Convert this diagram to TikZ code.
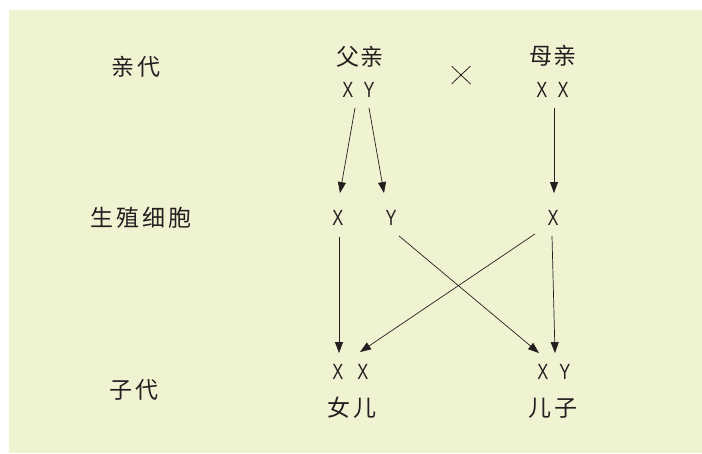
\documentclass[tikz,border=0pt]{standalone}
\usepackage{fontspec}
\usepackage{tikz}
\usetikzlibrary{arrows.meta}
\newfontfamily\cjk{Noto Sans CJK SC}
\newfontfamily\genefont{Liberation Sans}[FakeStretch=0.75]
\definecolor{paper}{RGB}{240,243,210}
\definecolor{ink}{RGB}{35,31,32}

\begin{document}
\begin{tikzpicture}[x=1pt,y=-1pt,
    word/.style={font=\cjk\fontsize{23}{23}\selectfont,inner sep=0pt,text=ink},
    gene/.style={font=\genefont\fontsize{22}{22}\selectfont,inner sep=0pt,
      text height=15.5pt,text depth=0pt,text=ink},
    arr/.style={-{Triangle[length=11pt,width=8pt]},line width=0.7pt,draw=ink}]
    \useasboundingbox (0,0) rectangle (702,453);
    \fill[paper] (9,10) rectangle (702,453);
    % row labels
    \node[word] (parents) at (136,67) {亲\hspace{3pt}代};
    \node[word] (gametes) at (141,218) {生\hspace{3pt}殖\hspace{3pt}细\hspace{3pt}胞};
    \node[word] (offspring) at (134,390) {子\hspace{3pt}代};
    % parents
    \node[word] (father) at (360,57) {父\hspace{2pt}亲};
    \node[word] (mother) at (553,56) {母\hspace{2pt}亲};
    \node[gene] (fa) at (358.5,90) {X\hspace{10pt}Y};
    \node[gene] (mo) at (552.5,90) {X\hspace{10pt}X};
    \node[minimum width=19pt,minimum height=18pt,inner sep=0pt,
      path picture={\draw[ink,line width=0.8pt]
        (path picture bounding box.north west) -- (path picture bounding box.south east)
        (path picture bounding box.south west) -- (path picture bounding box.north east);}]
      (cross) at (461,75) {};
    % gametes
    \node[gene] (gx) at (338,218) {X};
    \node[gene] (gy) at (391,218) {Y};
    \node[gene] (gm) at (553,218) {X};
    % offspring
    \node[gene] (da) at (350.5,372) {X\hspace{14pt}X};
    \node[gene] (so) at (554,372) {X\hspace{11pt}Y};
    \node[word] (daughter) at (352,408) {女\hspace{4pt}儿};
    \node[word] (son) at (553,408) {儿\hspace{3pt}子};
    % parents -> gametes
    \draw[arr] ([xshift=-3.5pt,yshift=-10pt]fa.south) -- ([xshift=2pt,yshift=17pt]gx.north);
    \draw[arr] ([xshift=10.5pt,yshift=-10pt]fa.south) -- ([xshift=-7pt,yshift=17pt]gy.north);
    \draw[arr] ([xshift=1.5pt,yshift=-10pt]mo.south) -- ([xshift=1pt,yshift=17pt]gm.north);
    % gametes -> offspring
    \draw[arr] ([xshift=1pt,yshift=-11pt]gx.south) -- ([xshift=-11.5pt,yshift=11pt]da.north);
    \draw[arr] ([xshift=8pt,yshift=-10pt]gy.south) -- ([xshift=-15pt,yshift=11pt]so.north);
    \draw[arr] ([xshift=-18pt,yshift=-8pt]gm.south) -- ([xshift=9.5pt,yshift=12pt]da.north);
    \draw[arr] ([xshift=-1pt,yshift=-10pt]gm.south) -- ([xshift=1pt,yshift=11pt]so.north);
\end{tikzpicture}
\end{document}
